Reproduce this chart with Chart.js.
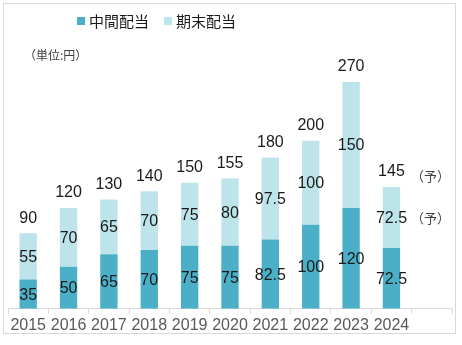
<!DOCTYPE html>
<html>
<head>
<meta charset="utf-8">
<script src="https://cdn.jsdelivr.net/npm/chart.js@4"></script>
<style>
  html, body { margin: 0; padding: 0; background: #fff; }
  #wrap { position: relative; width: 462px; height: 345px; }
  #frame { position: absolute; left: 3px; top: 3px; width: 453px; height: 331px; border: 1px solid #d9d9d9; box-sizing: border-box; }
  canvas { position: absolute; left: 0; top: 0; }
</style>
</head>
<body>
<div id="wrap">
  <div id="frame"></div>
  <canvas id="chart" width="462" height="345"></canvas>
</div>
<script>
const years = ['2015', '2016', '2017', '2018', '2019', '2020', '2021', '2022', '2023', '2024', ''];
const interim = [35, 50, 65, 70, 75, 75, 82.5, 100, 120, 72.5];
const yearEnd = [55, 70, 65, 70, 75, 80, 97.5, 100, 150, 72.5];
const totals = [90, 120, 130, 140, 150, 155, 180, 200, 270, 145];
const seriesNames = ['中間配当', '期末配当'];
const forecastNote = '（予）';
const unitNote = '（単位:円）';

const darkColor = '#4BAFC8';
const lightColor = '#BDE3EB';
const font = "'Liberation Sans', Arial, sans-serif";
const jpFont = "'Noto Sans CJK JP', sans-serif";

// labels inside segments, totals on top, legend and notes
const extras = {
  id: 'extras',
  afterDatasetsDraw(chart) {
    const ctx = chart.ctx;
    ctx.save();
    ctx.fillStyle = '#1a1a1a';
    ctx.font = '16px ' + font;
    ctx.textAlign = 'center';
    ctx.textBaseline = 'middle';
    chart.data.datasets.forEach((ds, di) => {
      chart.getDatasetMeta(di).data.forEach((bar, i) => {
        if (ds.data[i] == null) return;
        const mid = (bar.y + bar.base) / 2;
        ctx.fillText(String(ds.data[i]), bar.x, mid + 1);
      });
    });
    const topMeta = chart.getDatasetMeta(1);
    topMeta.data.forEach((bar, i) => {
      if (totals[i] == null) return;
      ctx.fillText(String(totals[i]), bar.x, bar.y - 15);
    });

    // forecast notes next to 2024
    const last = totals.length - 1;
    const lb = topMeta.data[last];
    ctx.fillStyle = '#404040';
    ctx.font = '13px ' + jpFont;
    ctx.fillText(forecastNote, lb.x + 39, lb.y - 11);
    ctx.fillText(forecastNote, lb.x + 39, (lb.y + lb.base) / 2 + 1);

    // unit
    ctx.textAlign = 'left';
    ctx.font = '12px ' + jpFont;
    ctx.fillText(unitNote, 24, 55);

    // legend
    const colors = [darkColor, lightColor];
    const xs = [77, 164];
    ctx.font = '15px ' + jpFont;
    seriesNames.forEach((name, k) => {
      ctx.fillStyle = colors[k];
      ctx.fillRect(xs[k], 17, 8, 8);
      ctx.fillStyle = '#1a1a1a';
      ctx.fillText(name, xs[k] + 12, 21);
    });
    ctx.restore();
  }
};

new Chart(document.getElementById('chart'), {
  type: 'bar',
  data: {
    labels: years,
    datasets: [
      { label: seriesNames[0], data: interim, backgroundColor: darkColor, barPercentage: 0.43, categoryPercentage: 1 },
      { label: seriesNames[1], data: yearEnd, backgroundColor: lightColor, barPercentage: 0.43, categoryPercentage: 1 }
    ]
  },
  options: {
    responsive: false,
    animation: false,
    layout: { padding: { left: 8, right: 10, top: 40, bottom: 8 } },
    plugins: { legend: { display: false }, tooltip: { enabled: false } },
    scales: {
      x: {
        stacked: true,
        grid: { offset: true, drawOnChartArea: false, drawTicks: true, tickLength: 5, color: '#d9d9d9' },
        border: { display: true, color: '#d9d9d9' },
        ticks: { color: '#595959', font: { family: font, size: 16 }, padding: 2, maxRotation: 0, autoSkip: false }
      },
      y: { stacked: true, display: false, min: 0, max: 320 }
    }
  },
  plugins: [extras]
});
</script>
</body>
</html>
